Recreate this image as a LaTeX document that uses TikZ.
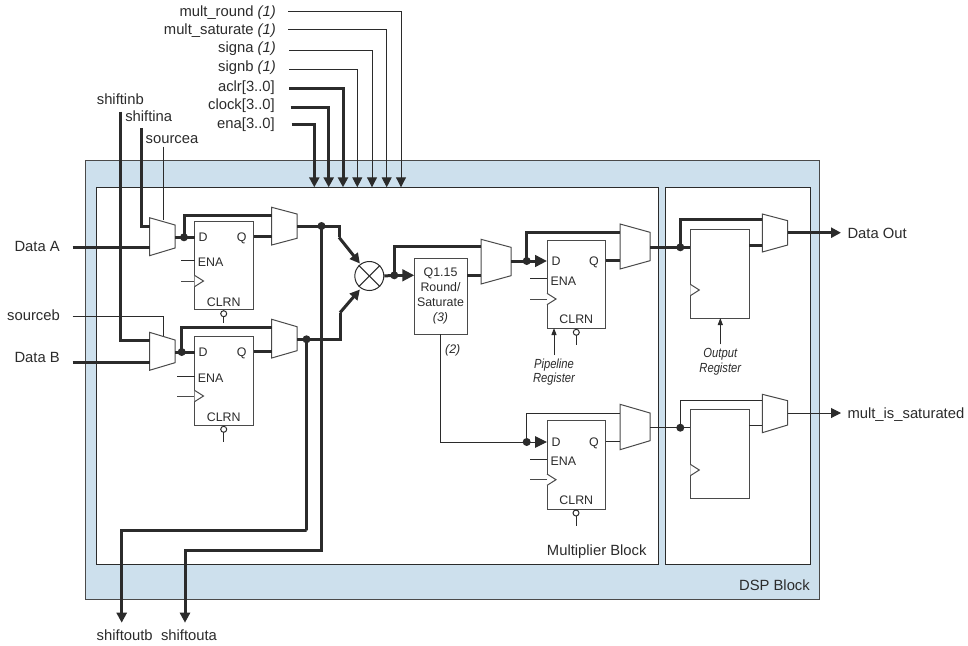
\documentclass[tikz,border=0pt]{standalone}
\usepackage{fontspec}
\setmainfont{Liberation Sans}
\newfontfamily\condit[FakeStretch=0.85]{Liberation Sans}
\usetikzlibrary{arrows.meta}
\definecolor{dspblue}{HTML}{CDE0ED}
\definecolor{ink}{HTML}{2B2B2B}
\definecolor{edge}{HTML}{4A4A4A}
\tikzset{
  thinw/.style={draw=ink,line width=1pt},
  thickw/.style={draw=ink,line width=3pt},
  thinarr/.style={thinw,-{Triangle[width=10pt,length=10pt]}},
  thickarr/.style={thickw,-{Triangle[width=10pt,length=10pt]}},
  dinarr/.style={thickw,-{Triangle[width=11.5pt,length=12pt]}},
  smallarr/.style={thinw,-{Triangle[width=5pt,length=7pt]}},
  outerbox/.style={draw=edge,fill=dspblue,line width=1pt},
  innerbox/.style={draw=ink,fill=white,line width=1pt},
  regshape/.style={draw=edge,fill=white,line width=1pt,inner sep=0pt,outer sep=0pt,rectangle},
  muxref/.style={inner sep=0pt,outer sep=0pt,rectangle},
  muxline/.style={draw=edge,fill=white,line width=1pt,line join=miter},
  junction/.style={circle,fill=ink,inner sep=0pt,minimum size=8pt},
  big/.style={text=ink,inner sep=0pt,font=\fontsize{14.8}{16}\selectfont},
  small/.style={text=ink,inner sep=0pt,font=\fontsize{12.4}{14}\selectfont},
  note/.style={text=ink,inner sep=0pt,font=\fontsize{13.2}{15}\condit\itshape},
  multcircle/.style={circle,draw=ink,fill=white,line width=1pt,inner sep=0pt,minimum size=29pt},
}
\newcommand{\muxbox}[7]{%
  \node[muxref,minimum width={(#3-#2)*1pt},minimum height={(#7-#4)*1pt}] (#1) at ({(#2+#3)/2},{(#4+#7)/2}) {};
  \draw[muxline] (#2,#4)--(#3,#5)--(#3,#6)--(#2,#7)--cycle;
}
\newcommand{\regbox}[5]{%
  \node[regshape,minimum width={(#4-#2)*1pt},minimum height={(#5-#3)*1pt}] (#1) at ({(#2+#4)/2},{(#3+#5)/2}) {};
}
\newcommand{\clktri}[3]{% x left, y center, half height
  \draw[draw=edge,fill=white,line width=1pt] (#1,#2-#3)--(#1+9,#2)--(#1,#2+#3);
}
\begin{document}
\begin{tikzpicture}[x=1pt,y=-1pt]
\useasboundingbox (0,0) rectangle (968,645);
% blocks
\draw[outerbox] (85.7,160) rectangle (819,599);
\draw[innerbox] (96.3,187.5) rectangle (658.7,564.5);
\draw[innerbox] (665,187.5) rectangle (810,564.5);
\node[big,anchor=base east] (lMB) at (646.7,555) {Multiplier Block};
\node[big,anchor=base east] (lDSP) at (810,590) {DSP Block};

% top labels
\node[big,anchor=base east] (lRound) at (276,16.7) {mult\_round \textit{(1)}};
\node[big,anchor=base east] (lSat) at (276,34.7) {mult\_saturate \textit{(1)}};
\node[big,anchor=base east] (lSigna) at (276,52.7) {signa \textit{(1)}};
\node[big,anchor=base east] (lSignb) at (276,71) {signb \textit{(1)}};
\node[big,anchor=base east] (lAclr) at (275,91.3) {aclr[3..0]};
\node[big,anchor=base east] (lClock) at (275,109.3) {clock[3..0]};
\node[big,anchor=base east] (lEna) at (275,128.3) {ena[3..0]};
\coordinate (sRound) at (288,11);
\coordinate (sSat) at (288,29.3);
\coordinate (sSigna) at (289,50.7);
\coordinate (sSignb) at (289,69.3);
\coordinate (sAclr) at (289,88.3);
\coordinate (sClock) at (290.5,107.3);
\coordinate (sEna) at (291.5,124);
\coordinate (tRound) at (401,187.3);
\coordinate (tSat) at (386.7,187.3);
\coordinate (tSigna) at (372,187.3);
\coordinate (tSignb) at (357.3,187.3);
\coordinate (tAclr) at (343,187.3);
\coordinate (tClock) at (328.7,187.3);
\coordinate (tEna) at (314.3,187.3);
\draw[thinarr] (sRound) -| (tRound);
\draw[thinarr] (sSat) -| (tSat);
\draw[thinarr] (sSigna) -| (tSigna);
\draw[thinarr] (sSignb) -| (tSignb);
\draw[thickarr] (sAclr) -| (tAclr);
\draw[thickarr] (sClock) -| (tClock);
\draw[thickarr] (sEna) -| (tEna);

% left labels
\node[big,anchor=base] (lShB) at (120.3,104) {shiftinb};
\node[big,anchor=base] (lShA) at (148.7,121.7) {shiftina};
\node[big,anchor=base] (lSrcA) at (172,143.3) {sourcea};
\node[big,anchor=base east] (lSrcB) at (60,320) {sourceb};
\node[big,anchor=base east] (lDA) at (60,251) {Data A};
\node[big,anchor=base east] (lDB) at (60,362.7) {Data B};
\node[big,anchor=base] (lOutB) at (124.7,640.7) {shiftoutb};
\node[big,anchor=base] (lOutA) at (189,640.7) {shiftouta};
\node[big,anchor=base west] (lDO) at (847.3,238.3) {Data Out};
\node[big,anchor=base west] (lMS) at (847.3,418.3) {mult\_is\_saturated};

% named points
\coordinate (sDA) at (72.7,247.3);
\coordinate (sDB) at (72.7,362);
\coordinate (sSrcA) at (163.3,146.7);
\coordinate (sSrcB) at (72.7,316.3);
\coordinate (sShA) at (141.3,128.3);
\coordinate (sShB) at (120.7,111.7);
\coordinate (jA) at (184,237.3);
\coordinate (jB) at (181.7,352);
\coordinate (jAo) at (321.5,226);
\coordinate (jBo) at (306.5,339.3);
\coordinate (bendA1) at (339,226);
\coordinate (bendA2) at (339,237.3);
\coordinate (bendB1) at (340,339.3);
\coordinate (bendB2) at (340,312.7);
\coordinate (cA) at (359.9,263.5);
\coordinate (cB) at (359.9,289.5);
\coordinate (jC) at (394.3,275.3);
\coordinate (jD) at (526.7,261);
\coordinate (jE) at (526.7,442);
\coordinate (jF) at (680.3,247.3);
\coordinate (jG) at (680.3,427.7);
\coordinate (oMB) at (306.7,530.3);
\coordinate (oMA) at (321.5,550.7);
\coordinate (eOutB) at (121.7,622.7);
\coordinate (eOutA) at (185,622.7);
\coordinate (eDO) at (841,232.7);
\coordinate (eMS) at (841,413);

% registers
\regbox{regA}{194.5}{221.7}{253.5}{309.3}
\regbox{regB}{194.5}{336.7}{253.5}{425}
\regbox{regC}{547}{240}{605.7}{328}
\regbox{regD}{547}{420.3}{605.7}{509}
\regbox{regE}{690.3}{229.3}{749}{318}
\regbox{regF}{690.3}{409.7}{749}{498}
\node[draw=edge,fill=white,line width=1pt,inner sep=0pt,outer sep=0pt,rectangle,minimum width=52.7pt,minimum height=75.7pt] (sat) at (440.65,296.15) {};
\node[small,anchor=base] (t1) at (440.5,276.2) {Q1.15};
\node[small,anchor=base] (t2) at (440.5,291.2) {Round/};
\node[small,anchor=base] (t3) at (440.5,306.2) {Saturate};
\node[small,anchor=base,font=\fontsize{12.4}{14}\selectfont\itshape] (t4) at (440.5,321.5) {(3)};
\node[small,anchor=base,font=\fontsize{12.4}{14}\selectfont\itshape] (t5) at (452.7,353.5) {(2)};

% muxes
\muxbox{mA1}{149.5}{175}{217.7}{225}{248}{255.7}
\muxbox{mA2}{271.7}{297}{207.3}{214}{238.3}{245}
\muxbox{mB1}{149.5}{175}{332.3}{340}{362.7}{370.3}
\muxbox{mB2}{271.7}{297}{319.3}{326.7}{350.7}{358}
\muxbox{mC}{481}{511}{239.3}{247.3}{275.7}{284}
\muxbox{mD}{620}{650}{224}{232.3}{260.7}{269}
\muxbox{mE}{620}{650}{404.3}{413}{440.7}{449.7}
\muxbox{mF}{762.3}{787.7}{214}{220.7}{245}{252}
\muxbox{mG}{762.3}{787.7}{394.3}{400.7}{425}{432.7}

% multiplier
\node[multcircle] (mul) at (369.3,276) {};
\draw[thinw] (mul.north west) -- (mul.south east);
\draw[thinw] (mul.north east) -- (mul.south west);

% inputs
\draw[thickw] (sDA) -- (mA1.west |- sDA);
\draw[thickw] (sDB) -- (mB1.west |- sDB);
\draw[thickw] (sShA) |- (mA1.west |- 0,226.7);
\draw[thickw] (sShB) |- (mB1.west |- 0,340);
\draw[thinw] (sSrcA) -- (sSrcA |- 0,220.4);
\draw[thinw] (sSrcB) -| (163.3,336);

% stage A
\draw[thickw] (mA1.east |- jA) -- (regA.west |- jA);
\draw[thickw] (jA) |- (mA2.west |- 0,215);
\draw[thickw] (regA.east |- 0,236.7) -- (mA2.west |- 0,236.7);
\draw[thickw] (mA2.east |- jAo) -- (bendA1) -- (bendA2);
\draw[thickarr] (bendA2) -- (cA);
\draw[thickarr] (jAo) |- (oMA) -| (eOutA);
% stage B
\draw[thickw] (mB1.east |- jB) -- (regB.west |- jB);
\draw[thickw] (jB) |- (mB2.west |- 0,327.7);
\draw[thickw] (regB.east |- 0,351.7) -- (mB2.west |- 0,351.7);
\draw[thickw] (mB2.east |- jBo) -- (bendB1) -- (bendB2);
\draw[thickarr] (bendB2) -- (cB);
\draw[thickarr] (jBo) |- (oMB) -| (eOutB);
% after multiplier
\draw[thickw] (mul.east) -- (jC);
\draw[dinarr] (jC) -- (sat.west |- jC);
\draw[thickw] (jC) |- (mC.west |- 0,246.7);
\draw[thickw] (sat.east |- 0,275) -- (mC.west |- 0,275);
\draw[thickw] (mC.east |- jD) -- (jD);
\draw[dinarr] (jD) -- (regC.west |- jD);
\draw[thickw] (jD) |- (mD.west |- 0,232.7);
\draw[thickw] (regC.east |- 0,260.7) -- (mD.west |- 0,260.7);
\draw[thickw] (mD.east |- jF) -- (regE.west |- jF);
\draw[thickw] (jF) |- (mF.west |- 0,219.3);
\draw[thickw] (regE.east |- 0,245) -- (mF.west |- 0,245);
\draw[thickarr] (mF.east |- eDO) -- (eDO);
% lower path
\draw[thinw] (sat.south -| 440.3,0) |- (jE);
\draw[thinw,-{Triangle[width=11.5pt,length=12pt]}] (jE) -- (regD.west |- jE);
\draw[thinw] (jE) |- (mE.west |- 0,413);
\draw[thinw] (regD.east |- 0,441) -- (mE.west |- 0,441);
\draw[thinw] (mE.east |- jG) -- (regF.west |- jG);
\draw[thinw] (jG) |- (mG.west |- 0,400.3);
\draw[thinw] (regF.east |- 0,425.7) -- (mG.west |- 0,425.7);
\draw[thinarr] (mG.east |- eMS) -- (eMS);

% junction dots
\node[junction] (dA) at (jA) {};
\node[junction] (dB) at (jB) {};
\node[junction] (dAo) at (jAo) {};
\node[junction] (dBo) at (jBo) {};
\node[junction] (dC) at (jC) {};
\node[junction] (dD) at (jD) {};
\node[junction] (dE) at (jE) {};
\node[junction] (dF) at (jF) {};
\node[junction] (dG) at (jG) {};

% register details: A
\node[small,anchor=base] (dA1) at (203,241.7) {D};
\node[small,anchor=base] (qA1) at (241.7,241.7) {Q};
\node[small,anchor=base] (eA1) at (210.7,266.2) {ENA};
\node[small,anchor=base] (cA1) at (223.7,306.2) {CLRN};
\draw[thinw] (181,260) -- (regA.west |- 0,260);
\draw[draw=edge,line width=1pt] (181,281) -- (regA.west |- 0,281);
\clktri{194.5}{281}{5.7}
\draw[thinw,fill=white] (223.7,313.7) circle[radius=3];
\draw[thinw] (223.7,316.7) -- (223.7,322.7);
% B
\node[small,anchor=base] (dB1) at (203,356.8) {D};
\node[small,anchor=base] (qB1) at (241.7,356.8) {Q};
\node[small,anchor=base] (eB1) at (210.7,382.2) {ENA};
\node[small,anchor=base] (cB1) at (223.7,421.2) {CLRN};
\draw[thinw] (177.3,376) -- (regB.west |- 0,376);
\draw[draw=edge,line width=1pt] (177.3,396) -- (regB.west |- 0,396);
\clktri{194.5}{396}{5.7}
\draw[thinw,fill=white] (223.7,429.3) circle[radius=3];
\draw[thinw] (223.7,432.3) -- (223.7,441.7);
% C
\node[small,anchor=base] (dC1) at (556,265.5) {D};
\node[small,anchor=base] (qC1) at (594,265.5) {Q};
\node[small,anchor=base] (eC1) at (563.3,285.2) {ENA};
\node[small,anchor=base] (cC1) at (576.3,323.8) {CLRN};
\draw[thinw] (530,278.3) -- (regC.west |- 0,278.3);
\draw[draw=edge,line width=1pt] (530,299) -- (regC.west |- 0,299);
\clktri{547}{299}{5.7}
\draw[thinw,fill=white] (576.3,332.3) circle[radius=3];
\draw[thinw] (576.3,335.3) -- (576.3,345);
\coordinate (pipeS) at (554,355);
\draw[smallarr] (pipeS) -- (pipeS |- regC.south);
\node[note,anchor=base] (n1) at (554,368.5) {Pipeline};
\node[note,anchor=base] (n2) at (554,382.5) {Register};
% D
\node[small,anchor=base] (dD1) at (556,446.5) {D};
\node[small,anchor=base] (qD1) at (594,446.5) {Q};
\node[small,anchor=base] (eD1) at (563.3,465.5) {ENA};
\node[small,anchor=base] (cD1) at (576.3,504.5) {CLRN};
\draw[thinw] (530,459) -- (regD.west |- 0,459);
\draw[draw=edge,line width=1pt] (530,479.7) -- (regD.west |- 0,479.7);
\clktri{547}{479.7}{5.7}
\draw[thinw,fill=white] (576,513) circle[radius=3];
\draw[thinw] (576,516) -- (576,525.7);
% output registers
\clktri{690.3}{290}{5.7}
\clktri{690.3}{470}{5.7}
\coordinate (outS) at (720.3,344.3);
\draw[smallarr] (outS) -- (outS |- regE.south);
\node[note,anchor=base] (n3) at (720.3,357.5) {Output};
\node[note,anchor=base] (n4) at (720.3,372.5) {Register};
\end{tikzpicture}
\end{document}
